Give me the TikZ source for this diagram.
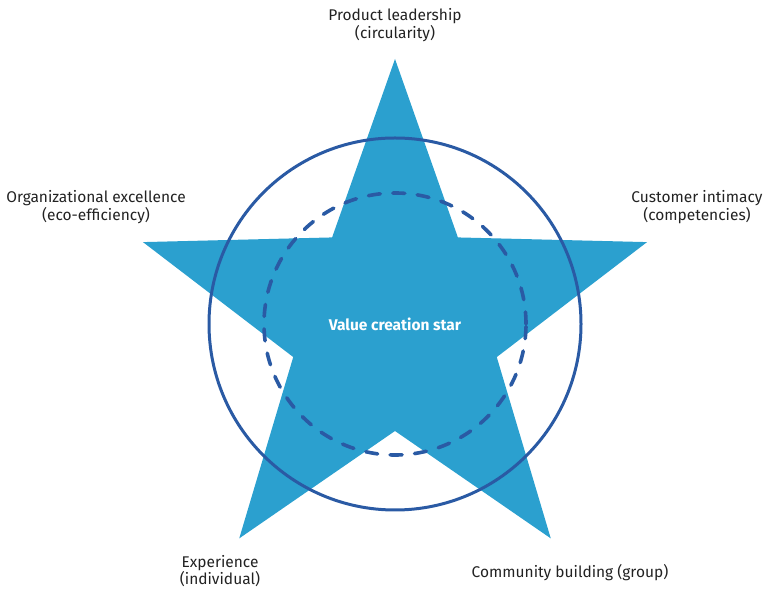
\documentclass[tikz,border=0pt]{standalone}
\usepackage{fontspec}
\setmainfont{Fira Sans}
\usepackage{xcolor}
\usepackage{tikz}
\usetikzlibrary{calc}

\definecolor{starblue}{HTML}{2BA0CF}
\definecolor{ringblue}{HTML}{2A5AA4}
\definecolor{labelgray}{HTML}{222222}

\tikzset{
	lbl/.style={align=center, text=labelgray, font=\fontsize{15.5}{17.5}\selectfont, inner sep=0pt},
	ring/.style={draw=ringblue, line width=3pt},
	dashring/.style={draw=ringblue, line width=3.6pt, line cap=round, dash pattern=on 12pt off 12.5pt}
}

\begin{document}
\begin{tikzpicture}[x=1pt,y=1pt]
		\useasboundingbox (0,0) rectangle (765,591);
		
		\coordinate (c) at (395,267);
		
		\fill[starblue] ($(c)+(90:265)$) -- ($(c)+(126:107)$) -- ($(c)+(162:265)$) -- ($(c)+(198:107)$)
			-- ($(c)+(234:265)$) -- ($(c)+(270:107)$) -- ($(c)+(306:265)$) -- ($(c)+(342:107)$)
			-- ($(c)+(18:265)$) -- ($(c)+(54:107)$) -- cycle;
		
		\draw[ring] (c) circle (186);
		\draw[dashring] (c) circle (131);
		
		\node[lbl, text=white, font=\fontsize{15.5}{17.5}\selectfont\bfseries] (star) at (c) {Value creation star};
		
		\node[lbl] (prod) at (395,566) {Product leadership\\(circularity)};
		\node[lbl] (org) at (96,384) {Organizational excellence\\(eco-efficiency)};
		\node[lbl] (cust) at (697,384) {Customer intimacy\\(competencies)};
		\node[lbl] (exp) at (220,20) {Experience\\(individual)};
		\node[lbl] (comm) at (570,18) {Community building (group)};
	\end{tikzpicture}
\end{document}
